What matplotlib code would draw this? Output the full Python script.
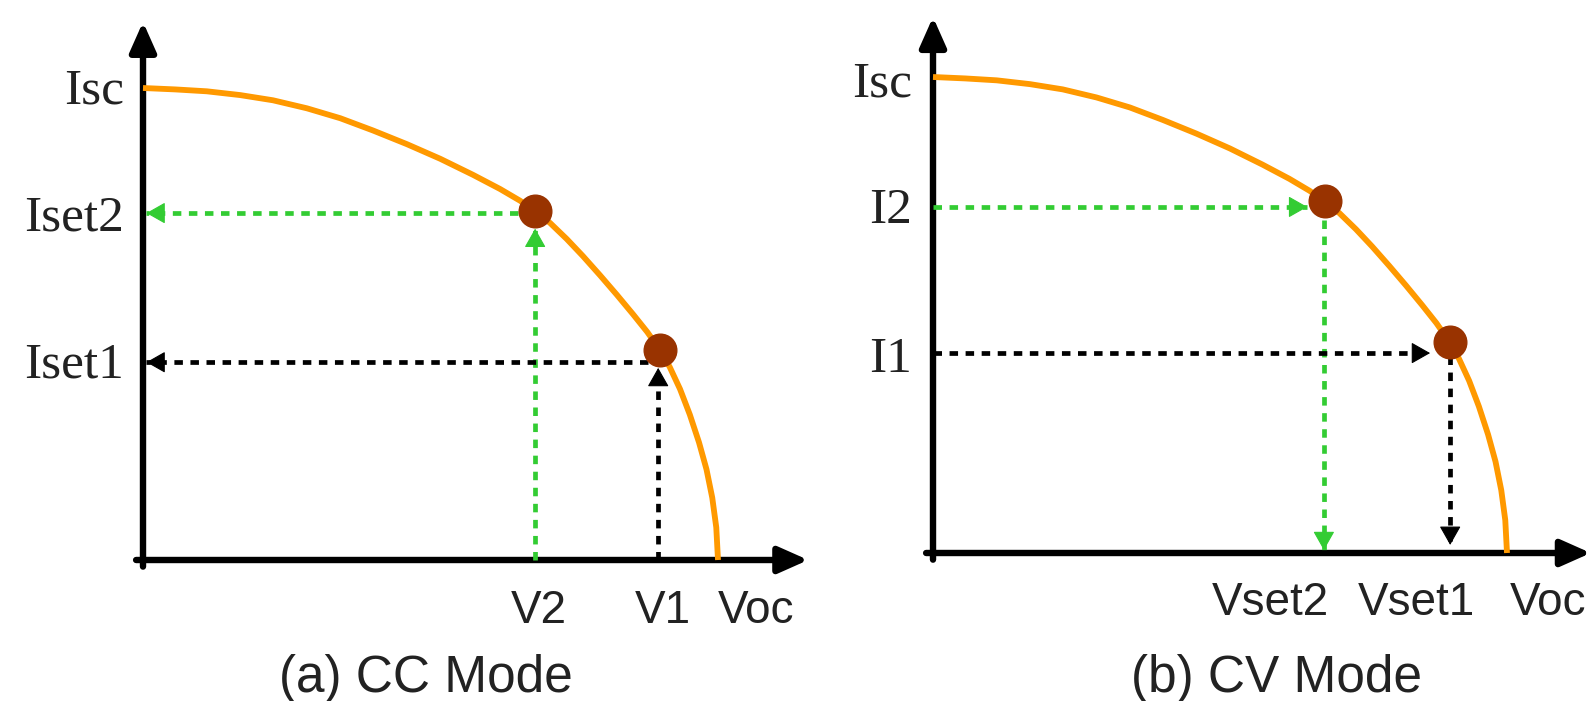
import matplotlib
matplotlib.use('Agg')
import matplotlib.pyplot as plt

# ---------------- data (normalized: V/Voc, I/Isc) ----------------
V_CURVE = [0.0, 0.056, 0.111, 0.169, 0.226, 0.285, 0.343, 0.400, 0.459, 0.517,
           0.574, 0.621, 0.656, 0.682, 0.708, 0.737, 0.765, 0.795, 0.824, 0.852,
           0.877, 0.899, 0.916, 0.934, 0.951, 0.967, 0.980, 0.990, 0.997, 1.0]
I_CURVE = [1.0, 0.997, 0.993, 0.985, 0.974, 0.957, 0.936, 0.910, 0.881, 0.850,
           0.816, 0.786, 0.761, 0.739, 0.714, 0.680, 0.644, 0.603, 0.562, 0.521,
           0.483, 0.445, 0.409, 0.362, 0.308, 0.249, 0.192, 0.132, 0.069, 0.0]

# CC mode: operating points, set currents, resulting voltages
CC_POINT_V = [0.682, 0.899]
CC_POINT_I = [0.739, 0.445]
CC_SET_I = [0.735, 0.419]      # Iset2, Iset1
CC_MEAS_V = [0.682, 0.896]     # V2, V1

# CV mode: operating points, set voltages, resulting currents
CV_POINT_V = [0.683, 0.901]
CV_POINT_I = [0.739, 0.443]
CV_SET_V = [0.681, 0.901]      # Vset2, Vset1
CV_MEAS_I = [0.727, 0.420]     # I2, I1

CC_Y_LABELS = ['Isc', 'Iset2', 'Iset1']
CC_X_LABELS = ['V2', 'V1', 'Voc']
CV_Y_LABELS = ['Isc', 'I2', 'I1']
CV_X_LABELS = ['Vset2', 'Vset1', 'Voc']
CAPTIONS = ['(a) CC Mode', '(b) CV Mode']

ORANGE = '#FF9900'
DOT = '#993300'
GREEN = '#33CC33'
BLACK = '#000000'
TXT = '#222222'

W, H = 1594, 701
fig = plt.figure(figsize=(W / 100, H / 100), dpi=100)


def make_axes(ox, oy, sx, sy):
    ax = fig.add_axes([0, 0, 1, 1])
    ax.set_xlim(-ox / sx, (W - ox) / sx)
    ax.set_ylim(-(H - oy) / sy, oy / sy)
    ax.axis('off')
    ax.patch.set_alpha(0)
    return ax


def axis_arrow(ax, start, tip):
    ax.annotate('', xy=tip, xytext=start,
                arrowprops=dict(arrowstyle='-|>,head_length=0.9,head_width=0.4',
                                color=BLACK, lw=4.6, shrinkA=0, shrinkB=0,
                                mutation_scale=20))


def dotted_arrow(ax, start, tip, color):
    ax.plot([start[0], tip[0]], [start[1], tip[1]], color=color, lw=3.4,
            linestyle=(0, (1.8, 1.6)), zorder=3)
    dx = tip[0] - start[0]
    dy = tip[1] - start[1]
    ux = (dx > 0) - (dx < 0)
    uy = (dy > 0) - (dy < 0)
    ax.annotate('', xy=tip, xytext=(-ux * 12, -uy * 12), textcoords='offset points',
                arrowprops=dict(arrowstyle='-|>,head_length=0.6,head_width=0.34',
                                color=color, lw=0.8, shrinkA=0, shrinkB=0,
                                mutation_scale=20), zorder=4)


def draw_panel(ax, xtip, ytip):
    axis_arrow(ax, (-0.012, 0), (xtip, 0))
    axis_arrow(ax, (0, -0.014), (0, ytip))
    ax.plot(V_CURVE, I_CURVE, color=ORANGE, lw=4.2, zorder=5, solid_capstyle='butt',
            solid_joinstyle='round')


yfont = dict(family='Liberation Serif', size=37, color=TXT)
xfont = dict(family='Liberation Sans', size=33, color=TXT)
cfont = dict(family='Liberation Sans', size=37, color=TXT)

# ---------------- (a) CC mode ----------------
axL = make_axes(143, 560, 575, 472)
draw_panel(axL, 1.157, 1.14)
dotted_arrow(axL, (CC_POINT_V[0] - 0.03, CC_SET_I[0]), (0.006, CC_SET_I[0]), GREEN)
dotted_arrow(axL, (CC_MEAS_V[0], 0.0), (CC_MEAS_V[0], CC_POINT_I[0] - 0.037), GREEN)
dotted_arrow(axL, (CC_POINT_V[1] - 0.02, CC_SET_I[1]), (0.006, CC_SET_I[1]), BLACK)
dotted_arrow(axL, (CC_MEAS_V[1], 0.0), (CC_MEAS_V[1], CC_POINT_I[1] - 0.038), BLACK)
axL.plot(CC_POINT_V, CC_POINT_I, 'o', color=DOT, ms=23.5, zorder=6)

for lab, y in zip(CC_Y_LABELS, [0.968, 0.699, 0.386]):
    axL.text(-0.033, y, lab, ha='right', va='baseline', **yfont)
for lab, x in zip(CC_X_LABELS, [0.689, 0.904, 1.066]):
    axL.text(x, -0.133, lab, ha='center', va='baseline', **xfont)
axL.text(0.492, -0.280, CAPTIONS[0], ha='center', va='baseline', **cfont)

# ---------------- (b) CV mode ----------------
axR = make_axes(933, 553, 574, 476)
draw_panel(axR, 1.146, 1.126)
dotted_arrow(axR, (0.0, CV_MEAS_I[0]), (0.652, CV_MEAS_I[0]), GREEN)
dotted_arrow(axR, (CV_SET_V[0], CV_POINT_I[0] - 0.04), (CV_SET_V[0], 0.006), GREEN)
dotted_arrow(axR, (0.0, CV_MEAS_I[1]), (0.866, CV_MEAS_I[1]), BLACK)
dotted_arrow(axR, (CV_SET_V[1], CV_POINT_I[1] - 0.03), (CV_SET_V[1], 0.017), BLACK)
axR.plot(CV_POINT_V, CV_POINT_I, 'o', color=DOT, ms=23.5, zorder=6)

for lab, y in zip(CV_Y_LABELS, [0.958, 0.693, 0.380]):
    axR.text(-0.037, y, lab, ha='right', va='baseline', **yfont)
for lab, x in zip(CV_X_LABELS, [0.587, 0.843, 1.071]):
    axR.text(x, -0.130, lab, ha='center', va='baseline', **xfont)
axR.text(0.599, -0.292, CAPTIONS[1], ha='center', va='baseline', **cfont)

fig.savefig('out.png', dpi=100, facecolor='white')
